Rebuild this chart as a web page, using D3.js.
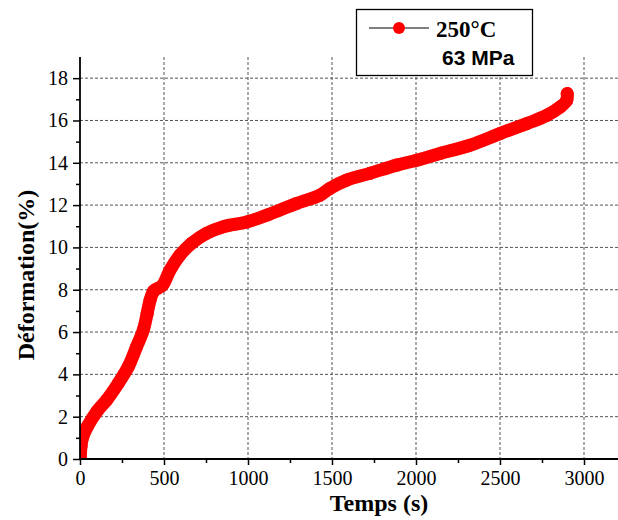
<!DOCTYPE html>
<html><head><meta charset="utf-8">
<script src="https://cdn.jsdelivr.net/npm/d3@7"></script>
<style>html,body{margin:0;padding:0;background:#fff;}svg{display:block;}</style>
</head><body>
<svg id="c" width="618" height="520"></svg>
<script>
const timeS = [2, 6, 15, 45, 100, 160, 228, 288, 337, 377, 400, 417, 440, 490, 536, 595, 665, 754, 853, 992, 1121, 1290, 1429, 1488, 1587, 1726, 1885, 2004, 2143, 2321, 2500, 2659, 2778, 2857, 2897, 2900];
const deformation = [0, 0.6, 1.0, 1.55, 2.24, 2.8, 3.58, 4.37, 5.31, 6.1, 6.89, 7.5, 7.95, 8.2, 8.93, 9.64, 10.2, 10.67, 10.98, 11.2, 11.55, 12.08, 12.47, 12.79, 13.18, 13.5, 13.89, 14.12, 14.44, 14.83, 15.38, 15.85, 16.24, 16.63, 16.95, 17.27];
const xTicks = [0, 500, 1000, 1500, 2000, 2500, 3000];
const yTicks = [0, 2, 4, 6, 8, 10, 12, 14, 16, 18];
const legendLabels = ["250°C", "63 MPa"];
const xTitle = "Temps (s)";
const yTitle = "Déformation(%)";

const svg = d3.select("#c");
const x = d3.scaleLinear().domain([0, 3200]).range([80, 617.6]);
const y = d3.scaleLinear().domain([0, 19]).range([459, 57]);

// grid
const grid = svg.append("g").attr("stroke", "#555").attr("stroke-width", 1).attr("stroke-dasharray", "3,2");
grid.selectAll("line.h").data(yTicks.filter(d => d > 0)).join("line")
  .attr("x1", x(0)).attr("x2", 618).attr("y1", d => y(d)).attr("y2", d => y(d));
grid.selectAll("line.v").data(xTicks.filter(d => d > 0)).join("line")
  .attr("x1", d => x(d)).attr("x2", d => x(d)).attr("y1", y(19)).attr("y2", y(0));

// data
svg.append("defs").append("clipPath").attr("id", "clip").append("rect")
  .attr("x", x(0)).attr("y", 0).attr("width", 618 - x(0)).attr("height", y(0));
const pts = timeS.map((t, i) => [t, deformation[i]]);
const line = d3.line().x(d => x(d[0])).y(d => y(d[1])).curve(d3.curveCatmullRom);
const plot = svg.append("g").attr("clip-path", "url(#clip)");
plot.append("path").attr("d", line(pts)).attr("fill", "none").attr("stroke", "#ff0000")
  .attr("stroke-width", 13).attr("stroke-linecap", "round").attr("stroke-linejoin", "round");
plot.selectAll("circle").data(pts).join("circle")
  .attr("cx", d => x(d[0])).attr("cy", d => y(d[1])).attr("r", 6.5).attr("fill", "#ff0000");

// axes
const tf = "'Liberation Serif','Times New Roman',serif";
const xAxis = svg.append("g").attr("transform", `translate(0,${y(0)})`)
  .call(d3.axisBottom(x).tickValues(xTicks).tickSize(6).tickPadding(6).tickFormat(d3.format("d")));
svg.append("g").attr("transform", `translate(0,${y(0)})`)
  .call(d3.axisBottom(x).tickValues(d3.range(250, 3250, 500)).tickSize(4).tickFormat(""))
  .call(g => g.select(".domain").remove());
const yAxis = svg.append("g").attr("transform", `translate(${x(0)},0)`)
  .call(d3.axisLeft(y).tickValues(yTicks).tickSize(7).tickPadding(5).tickFormat(d3.format("d")));
svg.append("g").attr("transform", `translate(${x(0)},0)`)
  .call(d3.axisLeft(y).tickValues(d3.range(1, 19, 2)).tickSize(4).tickFormat(""))
  .call(g => g.select(".domain").remove());
svg.selectAll(".domain").attr("stroke", "#000").attr("stroke-width", 1.8);
svg.selectAll(".tick line").attr("stroke", "#000").attr("stroke-width", 1.5);
xAxis.selectAll("text").attr("font-family", tf).attr("font-size", 20).attr("fill", "#000");
yAxis.selectAll("text").attr("font-family", tf).attr("font-size", 20).attr("fill", "#000");
xAxis.select(".domain").attr("d", `M${x(0)},0H618`);
yAxis.select(".domain").attr("d", `M0,${y(0)}V${y(19)}`);

// titles
svg.append("text").attr("x", 379).attr("y", 511).attr("text-anchor", "middle")
  .attr("font-family", tf).attr("font-weight", "bold").attr("font-size", 24).text(xTitle);
svg.append("text").attr("transform", "translate(34,275) rotate(-90)").attr("text-anchor", "middle")
  .attr("font-family", tf).attr("font-weight", "bold").attr("font-size", 24).text(yTitle);

// legend
const lg = svg.append("g");
lg.append("rect").attr("x", 356.5).attr("y", 9.5).attr("width", 176).attr("height", 66)
  .attr("fill", "#fff").attr("stroke", "#000").attr("stroke-width", 1.3);
lg.append("line").attr("x1", 369).attr("x2", 429).attr("y1", 28).attr("y2", 28).attr("stroke", "#000").attr("stroke-width", 1.2);
lg.append("circle").attr("cx", 399).attr("cy", 28).attr("r", 6).attr("fill", "#ff0000");
lg.append("text").attr("x", 436).attr("y", 37).attr("font-family", tf).attr("font-weight", "bold").attr("font-size", 23).text(legendLabels[0]);
lg.append("text").attr("x", 442).attr("y", 65).attr("font-family", "'Liberation Sans',Arial,sans-serif").attr("font-weight", "bold").attr("font-size", 21).text(legendLabels[1]);
</script>
</body></html>
